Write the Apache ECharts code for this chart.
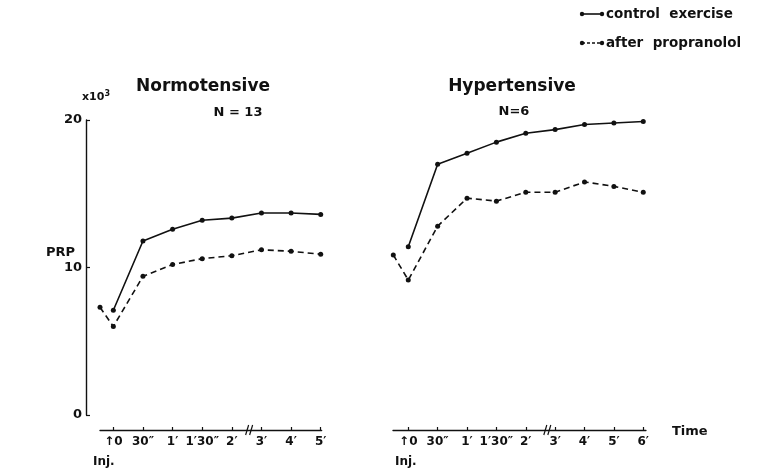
<!DOCTYPE html>
<html><head><meta charset="utf-8">
<script src="https://cdn.jsdelivr.net/npm/echarts@6/dist/echarts.min.js"></script>
<style>html,body{margin:0;padding:0;background:#fff}#c{width:758px;height:473px}</style>
</head><body><div id="c"></div>
<script>
// Tick labels (category positions 0..n-1)
const normTicks = ['↑0', '30″', '1′', '1′30″', '2′', '3′', '4′', '5′'];
const hyperTicks = ['↑0', '30″', '1′', '1′30″', '2′', '3′', '4′', '5′', '6′'];
// position of the pre-injection point (in tick units, before 0)
const normPrePos = -0.45;
const hyperPrePos = -0.51;
// PRP values (x10^3)
const normControl = [7.1, 11.8, 12.6, 13.2, 13.35, 13.7, 13.7, 13.6];
const normPropPre = 7.3;
const normProp = [6.0, 9.4, 10.2, 10.6, 10.8, 11.2, 11.1, 10.9];
const hyperControl = [11.4, 17.0, 17.75, 18.5, 19.1, 19.35, 19.7, 19.8, 19.9];
const hyperPropPre = 10.85;
const hyperProp = [9.15, 12.8, 14.7, 14.5, 15.1, 15.1, 15.8, 15.5, 15.1];
const yTicks = [0, 10, 20];

const FONT = 'DejaVu Sans';
const chart = echarts.init(document.getElementById('c'), null, {renderer: 'canvas'});

function xAxisCfg(grid, min, max, labels) {
  const idx = labels.map((_, i) => i);
  return {
    type: 'value', gridIndex: grid, min: min, max: max, offset: 15,
    axisLine: {show: true, onZero: false, lineStyle: {color: '#111', width: 1.4}},
    axisTick: {show: true, inside: true, length: 3, customValues: idx, lineStyle: {color: '#111', width: 1.2}},
    axisLabel: {show: true, customValues: idx, formatter: v => labels[Math.round(v)] || '',
      color: '#111', fontFamily: FONT, fontSize: 12, fontWeight: 'bold', margin: 6},
    splitLine: {show: false}
  };
}
function series(name, grid, data, dashed) {
  return {
    type: 'line', name: name, xAxisIndex: grid, yAxisIndex: grid, data: data,
    symbol: 'circle', symbolSize: 5, color: '#111',
    itemStyle: {color: '#111'},
    lineStyle: {color: '#111', width: 1.6, type: dashed ? [6, 4] : 'solid'},
    animation: false, silent: true
  };
}
const normCtrlData = normControl.map((v, i) => [i, v]);
const normPropData = [[normPrePos, normPropPre]].concat(normProp.map((v, i) => [i, v]));
const hypCtrlData = hyperControl.map((v, i) => [i, v]);
const hypPropData = [[hyperPrePos, hyperPropPre]].concat(hyperProp.map((v, i) => [i, v]));

const option = {
  backgroundColor: '#fff',
  animation: false,
  grid: [
    {left: 100, width: 221.6, top: 120, bottom: 58},
    {left: 393, width: 252.9, top: 120, bottom: 58}
  ],
  xAxis: [
    xAxisCfg(0, normPrePos, 7.03, normTicks),
    xAxisCfg(1, -0.52, 8.09, hyperTicks)
  ],
  yAxis: [
    {type: 'value', gridIndex: 0, min: yTicks[0], max: yTicks[2], interval: 10, offset: 14,
     axisLine: {show: true, onZero: false, lineStyle: {color: '#111', width: 1.4}},
     axisTick: {show: true, inside: true, length: 4, lineStyle: {color: '#111', width: 1.2}},
     axisLabel: {color: '#111', fontFamily: FONT, fontSize: 13, fontWeight: 'bold', margin: 4},
     splitLine: {show: false}},
    {type: 'value', gridIndex: 1, min: yTicks[0], max: yTicks[2], show: false, splitLine: {show: false}}
  ],
  series: [
    series('control exercise', 0, normCtrlData, false),
    series('after propranolol', 0, normPropData, true),
    series('control exercise', 1, hypCtrlData, false),
    series('after propranolol', 1, hypPropData, true)
  ]
};
chart.setOption(option);

function txt(x, y, s, size, weight, align) {
  return {type: 'text', x: x, y: y, style: {text: s, fill: '#111', fontFamily: FONT, fontSize: size,
    fontWeight: weight || 'bold', align: align || 'left', verticalAlign: 'middle'}};
}
function brk(grid, xv) {
  const p = chart.convertToPixel({gridIndex: grid}, [xv, 0]);
  const y = p[1] + 15;
  return [
    {type: 'rect', shape: {x: p[0] - 3, y: y - 2, width: 6, height: 4}, style: {fill: '#fff'}},
    {type: 'line', shape: {x1: p[0] - 4, y1: y + 5, x2: p[0] - 1, y2: y - 5}, style: {stroke: '#111', lineWidth: 1.2}},
    {type: 'line', shape: {x1: p[0] + 0, y1: y + 5, x2: p[0] + 3, y2: y - 5}, style: {stroke: '#111', lineWidth: 1.2}}
  ];
}
const g = [
  txt(203, 87, 'Normotensive', 17, 'bold', 'center'),
  txt(238, 113, 'N = 13', 13, 'bold', 'center'),
  txt(512, 87, 'Hypertensive', 17, 'bold', 'center'),
  txt(514, 112, 'N=6', 13, 'bold', 'center'),
  txt(46, 253, 'PRP', 13, 'bold', 'left'),
  {type: 'text', x: 82, y: 97, style: {text: 'x10{s|3}', rich: {s: {fontSize: 8, fontFamily: FONT, fontWeight: 'bold', verticalAlign: 'top', padding: [0, 0, 6, 0]}},
    fill: '#111', fontFamily: FONT, fontSize: 11, fontWeight: 'bold', verticalAlign: 'middle'}},
  txt(93, 462, 'Inj.', 12, 'bold', 'left'),
  txt(395, 462, 'Inj.', 12, 'bold', 'left'),
  txt(672, 432, 'Time', 13, 'bold', 'left'),
  // legend
  {type: 'line', shape: {x1: 582, y1: 14, x2: 602, y2: 14}, style: {stroke: '#111', lineWidth: 1.6}},
  {type: 'circle', shape: {cx: 582, cy: 14, r: 2.2}, style: {fill: '#111'}},
  {type: 'circle', shape: {cx: 602, cy: 14, r: 2.2}, style: {fill: '#111'}},
  txt(606, 14, 'control  exercise', 13.5, 'bold', 'left'),
  {type: 'line', shape: {x1: 582, y1: 43, x2: 602, y2: 43}, style: {stroke: '#111', lineWidth: 1.6, lineDash: [3, 2]}},
  {type: 'circle', shape: {cx: 582, cy: 43, r: 2.2}, style: {fill: '#111'}},
  {type: 'circle', shape: {cx: 602, cy: 43, r: 2.2}, style: {fill: '#111'}},
  txt(606, 43, 'after  propranolol', 13.5, 'bold', 'left')
].concat(brk(0, 4.6)).concat(brk(1, 4.75));
chart.setOption({graphic: g});
</script>
</body></html>
